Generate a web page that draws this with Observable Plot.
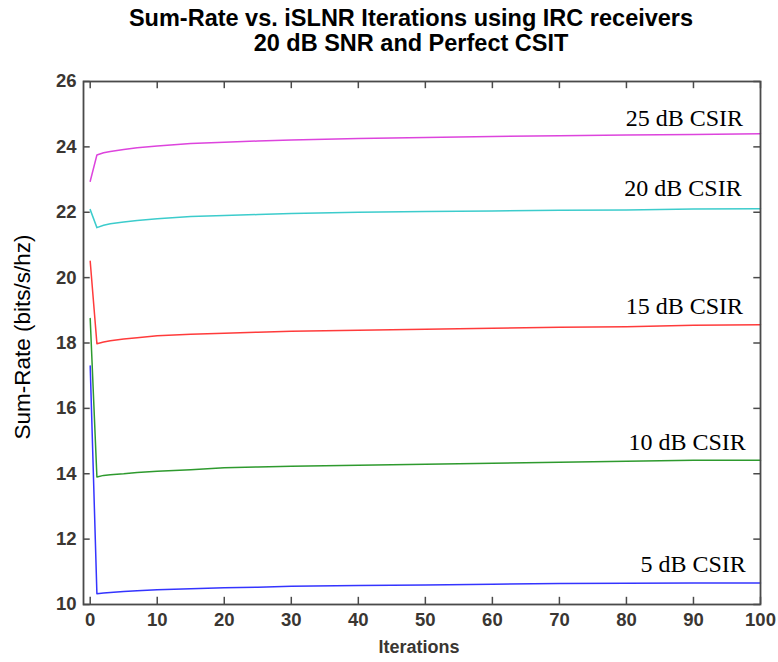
<!DOCTYPE html>
<html>
<head>
<meta charset="utf-8">
<script src="https://cdn.jsdelivr.net/npm/d3@7"></script>
<script src="https://cdn.jsdelivr.net/npm/@observablehq/plot@0.6"></script>
<style>
  body { margin: 0; background: #fff; }
  #wrap { position: relative; width: 778px; height: 662px; overflow: hidden; }
  #title {
    position: absolute; left: 0; top: 0; width: 822px; text-align: center;
    font: bold 23.5px "Liberation Sans", Arial, sans-serif; line-height: 25px;
    padding-top: 6px; color: #000;
  }
  #chart { position: absolute; left: 0; top: 55px; }
</style>
</head>
<body>
<div id="wrap">
  <div id="title">Sum-Rate vs. iSLNR Iterations using IRC receivers<br>20 dB SNR and Perfect CSIT</div>
  <div id="chart"></div>
</div>
<script>
// Sum-rate (bits/s/Hz) per iSLNR iteration, one array per CSIR level
const iterations = [0, 1, 2, 3, 5, 7, 10, 15, 20, 25, 30, 40, 50, 60, 70, 80, 90, 100];
const csir25 = [22.95, 23.75, 23.82, 23.86, 23.92, 23.97, 24.03, 24.10, 24.14, 24.18, 24.21, 24.26, 24.29, 24.32, 24.34, 24.36, 24.38, 24.40];
const csir20 = [22.08, 21.53, 21.60, 21.65, 21.70, 21.75, 21.80, 21.87, 21.90, 21.93, 21.96, 22.00, 22.02, 22.04, 22.06, 22.07, 22.10, 22.11];
const csir15 = [20.50, 17.98, 18.03, 18.07, 18.12, 18.16, 18.22, 18.27, 18.30, 18.33, 18.36, 18.39, 18.42, 18.45, 18.48, 18.50, 18.54, 18.56];
const csir10 = [18.75, 13.90, 13.95, 13.97, 14.00, 14.04, 14.08, 14.12, 14.18, 14.21, 14.23, 14.26, 14.29, 14.32, 14.35, 14.38, 14.41, 14.41];
const csir5  = [17.30, 10.33, 10.35, 10.37, 10.40, 10.42, 10.45, 10.48, 10.51, 10.53, 10.56, 10.58, 10.60, 10.62, 10.64, 10.65, 10.66, 10.66];

const seriesNames = ["25 dB CSIR", "20 dB CSIR", "15 dB CSIR", "10 dB CSIR", "5 dB CSIR"];
const seriesValues = [csir25, csir20, csir15, csir10, csir5];

// Curve annotations (placed at iteration / sum-rate coordinates)
const labelX = [97.4, 97.2, 97.4, 97.8, 97.8];
const labelY = [24.65, 22.49, 18.90, 14.72, 10.98];

const xTicks = [0, 10, 20, 30, 40, 50, 60, 70, 80, 90, 100];
const yTicks = [10, 12, 14, 16, 18, 20, 22, 24, 26];

const rows = seriesNames.flatMap((name, s) =>
  iterations.map((it, i) => ({series: name, iteration: it, rate: seriesValues[s][i]}))
);
const labels = seriesNames.map((name, s) => ({name, x: labelX[s], y: labelY[s]}));

const axisColor = "#4a4a4a";
const tickText = "#3a3632";

const chart = Plot.plot({
  width: 778,
  height: 607,
  marginTop: 26,
  marginBottom: 58,
  marginLeft: 83,
  marginRight: 18,
  style: {fontFamily: "'Liberation Sans', Arial, sans-serif", background: "#fff"},
  x: {domain: [-1, 100]},
  y: {domain: [10, 26]},
  color: {
    domain: seriesNames,
    range: ["#dd44dd", "#3ccccc", "#ff3b3b", "#2e9a2e", "#3434ff"]
  },
  marks: [
    Plot.line(rows, {x: "iteration", y: "rate", z: "series", stroke: "series", strokeWidth: 1.5}),
    Plot.frame({stroke: axisColor, strokeWidth: 1.8}),
    // inward tick marks on all four sides
    Plot.ruleX(xTicks, {x: d => d, y1: 10, y2: 10.22, stroke: axisColor, strokeWidth: 1.5}),
    Plot.ruleX(xTicks, {x: d => d, y1: 26, y2: 25.78, stroke: axisColor, strokeWidth: 1.5}),
    Plot.ruleY(yTicks, {y: d => d, x1: -1, x2: 0, stroke: axisColor, strokeWidth: 1.5}),
    Plot.ruleY(yTicks, {y: d => d, x1: 100, x2: 99, stroke: axisColor, strokeWidth: 1.5}),
    Plot.axisX(xTicks, {tickSize: 0, tickPadding: 8, fontSize: 18.5, fontWeight: "bold", color: tickText, label: null}),
    Plot.axisY(yTicks, {tickSize: 0, tickPadding: 7, fontSize: 18.5, fontWeight: "bold", color: tickText, label: null}),
    Plot.text(["Iterations"], {text: d => d, frameAnchor: "bottom", textAnchor: "middle", dx: -3, dy: 43,
      lineAnchor: "middle", fontSize: 18, fontWeight: "bold", fill: tickText}),
    Plot.text(["Sum-Rate (bits/s/hz)"], {text: d => d, frameAnchor: "left", textAnchor: "middle", rotate: -90,
      dx: -61, dy: -6, lineAnchor: "middle", fontSize: 22.5, fill: "#000"}),
    Plot.text(labels, {x: "x", y: "y", text: "name", textAnchor: "end", lineAnchor: "bottom",
      fontFamily: "'Liberation Serif', 'Times New Roman', serif", fontSize: 24, fill: "#000"})
  ]
});
document.getElementById("chart").appendChild(chart);
</script>
</body>
</html>
